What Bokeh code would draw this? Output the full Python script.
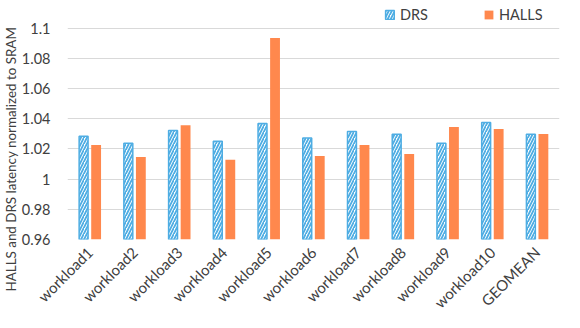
import math
from bokeh.plotting import figure
from bokeh.models import ColumnDataSource, FactorRange, Legend, LegendItem, CustomJSTickFormatter, Range1d, Title
from bokeh.transform import dodge
from bokeh.embed import file_html
from bokeh.resources import INLINE

categories = ["workload1", "workload2", "workload3", "workload4", "workload5",
              "workload6", "workload7", "workload8", "workload9", "workload10", "GEOMEAN"]
drs = [1.0284, 1.0238, 1.0323, 1.0251, 1.0369, 1.0272, 1.0316, 1.0297, 1.0238, 1.0376, 1.0297]
halls = [1.0226, 1.0147, 1.0358, 1.0128, 1.0936, 1.0154, 1.0226, 1.0167, 1.0345, 1.0332, 1.0299]
y_ticks = [0.96, 0.98, 1.0, 1.02, 1.04, 1.06, 1.08, 1.1]
y_label = "HALLS and DRS latency normalized to SRAM"

BASE = 0.96
src = ColumnDataSource(dict(cat=categories, drs=drs, halls=halls))

FONT = "Lato"
TXT = "#404040"
BLUE = "#4EADE3"
ORANGE = "#FF884D"

# frame extends 26px above the 1.1 gridline to host the legend (213px per 0.14)
y_top = 1.1 + 26 * 0.14 / 213

p = figure(width=564, height=320, x_range=FactorRange(factors=categories, range_padding=0),
           y_range=Range1d(0.96, y_top), output_backend="svg", toolbar_location=None,
           min_border_left=64, min_border_right=5, min_border_top=2, min_border_bottom=80)
p.outline_line_color = None

r1 = p.vbar(x=dodge("cat", -0.14, range=p.x_range), top="drs", bottom=BASE, width=0.2, source=src,
            fill_color="white", line_color=BLUE, line_width=1.5,
            hatch_pattern="/", hatch_color=BLUE, hatch_scale=6, hatch_weight=1.8)
r2 = p.vbar(x=dodge("cat", 0.14, range=p.x_range), top="halls", bottom=BASE, width=0.22, source=src,
            fill_color=ORANGE, line_color=None)

p.yaxis.ticker = y_ticks
p.yaxis.formatter = CustomJSTickFormatter(code="return (Math.round(tick*100)/100).toString();")
p.yaxis.axis_line_color = None
p.yaxis.major_tick_line_color = None
p.yaxis.minor_tick_line_color = None
p.yaxis.major_tick_out = 0
p.yaxis.major_tick_in = 0
p.yaxis.minor_tick_out = 0
p.yaxis.major_label_standoff = 17
p.yaxis.major_label_text_font = FONT
p.yaxis.major_label_text_font_size = "14.5px"
p.yaxis.major_label_text_color = TXT

ytitle = Title(text=y_label, align="left", offset=-52, text_font=FONT, text_font_size="13.4px",
               text_font_style="normal", text_color=TXT, standoff=0)
p.add_layout(ytitle, "left")

p.xaxis.axis_line_color = None
p.xaxis.major_tick_line_color = None
p.xaxis.minor_tick_line_color = None
p.xaxis.major_tick_out = 0
p.xaxis.major_tick_in = 0
p.xaxis.minor_tick_out = 0
p.xaxis.major_label_standoff = 10
p.xaxis.major_label_orientation = math.pi / 4
p.xaxis.major_label_text_font = FONT
p.xaxis.major_label_text_font_size = "15px"
p.xaxis.major_label_text_color = TXT
p.xgrid.grid_line_color = None
p.ygrid.grid_line_color = "#D9D9D9"
p.ygrid.grid_line_width = 1

legend = Legend(items=[LegendItem(label="DRS", renderers=[r1]), LegendItem(label="HALLS", renderers=[r2])],
                orientation="horizontal", location=(317, 216), border_line_color=None,
                background_fill_alpha=0, label_text_font=FONT, label_text_font_size="14.5px",
                label_text_color=TXT, glyph_width=11, glyph_height=11, spacing=55, padding=0,
                label_standoff=5, margin=0)
p.add_layout(legend, "center")

open("out.html", "w").write(file_html(p, INLINE))
